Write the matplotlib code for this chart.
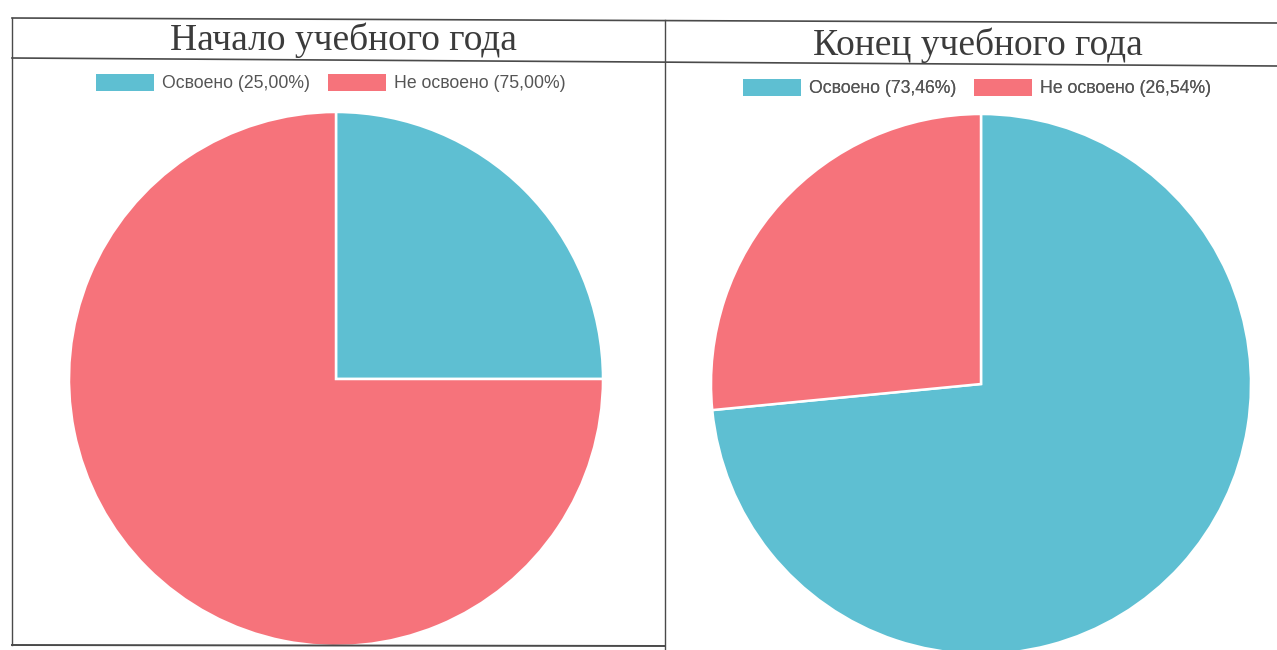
import matplotlib
matplotlib.use("Agg")
import matplotlib.pyplot as plt

titles = ["Начало учебного года", "Конец учебного года"]
categories = ["Освоено", "Не освоено"]
start_values = [25.00, 75.00]
end_values = [73.46, 26.54]
colors = ["#5ebfd2", "#f6737b"]

W, H = 1277, 650
fig = plt.figure(figsize=(W / 100, H / 100), dpi=100)
ax = fig.add_axes([0, 0, 1, 1])

def fmt(v):
    return f"{v:.2f}".replace(".", ",")

panels = [
    dict(values=start_values, center=(336, H - 379), radius=267,
         title_xy=(343, H - 40), legend_xy=(331, H - 83)),
    dict(values=end_values, center=(981, H - 384), radius=270,
         title_xy=(978, H - 45), legend_xy=(977, H - 88)),
]

for title, p in zip(titles, panels):
    wedges, _ = ax.pie(p["values"], colors=colors, startangle=90, counterclock=False,
                       center=p["center"], radius=p["radius"], frame=True,
                       wedgeprops=dict(edgecolor="white", linewidth=1.8))
    labels = [f"{c} ({fmt(v)}%)" for c, v in zip(categories, p["values"])]
    leg = ax.legend(wedges, labels, loc="center", ncol=2,
                    bbox_to_anchor=(p["legend_xy"][0] / W, p["legend_xy"][1] / H),
                    bbox_transform=fig.transFigure, frameon=False,
                    prop=dict(family="Liberation Sans", size=12.7),
                    handlelength=3.3, handleheight=1.1, handletextpad=0.45,
                    columnspacing=1.0, labelcolor="#555555")
    for h in leg.legend_handles:
        h.set_edgecolor("none")
    ax.add_artist(leg)
    ax.text(p["title_xy"][0], p["title_xy"][1], title, ha="center", va="center",
            fontsize=27, family="Liberation Serif", color="#3b3b3b")

# table borders
lc = "#4a4a4a"
ax.plot([12, 1277], [H - 18, H - 23], color=lc, lw=1.2)
ax.plot([12, 1277], [H - 58, H - 66], color=lc, lw=1.2)
ax.plot([12, 12], [H - 18, H - 645], color=lc, lw=1.0)
ax.plot([665, 665], [H - 20, 0], color=lc, lw=1.0)
ax.plot([12, 665], [H - 645, H - 646], color=lc, lw=1.4)

ax.set_xlim(0, W)
ax.set_ylim(0, H)
ax.set_aspect("auto")
ax.axis("off")

fig.savefig("out.png", dpi=100)
